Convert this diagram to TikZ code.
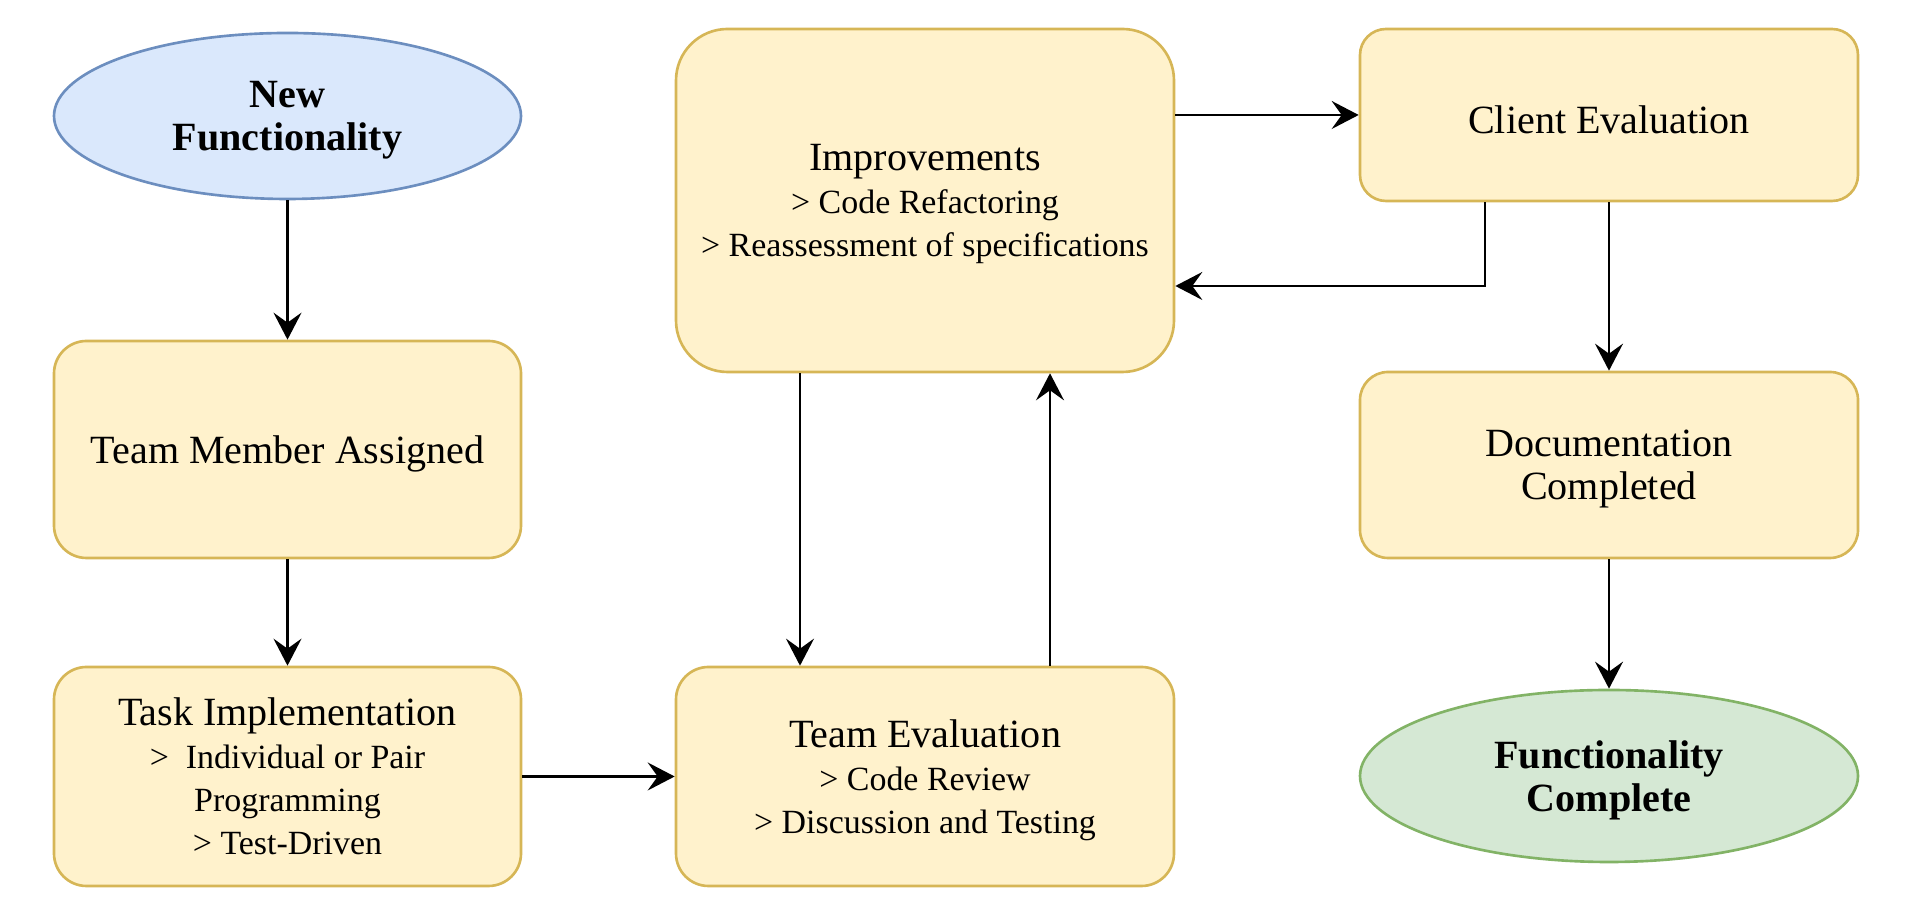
\documentclass[tikz,border=0pt]{standalone}
\usepackage{fontspec}
\setmainfont{Liberation Serif}
\usetikzlibrary{arrows.meta, shapes.geometric, positioning}

\definecolor{boxfill}{HTML}{FFF2CC}
\definecolor{boxline}{HTML}{D6B656}
\definecolor{startfill}{HTML}{DAE8FC}
\definecolor{startline}{HTML}{6C8EBF}
\definecolor{endfill}{HTML}{D5E8D4}
\definecolor{endline}{HTML}{82B366}
\newcommand{\titlesize}{\fontsize{22.8}{24.5}\selectfont}
\newcommand{\itemsize}{\fontsize{19.3}{24.5}\selectfont}

\begin{document}
\begin{tikzpicture}[
  stepbox/.style={draw=boxline, fill=boxfill, line width=1.5pt, rounded corners=#1,
    align=center, font=\titlesize, inner sep=0pt, text depth=-0.08cm},
  stepbox/.default=0.65cm,
  terminal/.style={ellipse, line width=1.5pt, align=center,
    font=\titlesize\bfseries, inner sep=0pt, text depth=-0.08cm},
  arr/.style={-{Stealth[length=0.54cm, width=0.56cm, inset=0.2cm]}, line width=1.5pt}
]
\useasboundingbox (0,0) rectangle (38.36,18.4);

% Columna izquierda
\node[terminal, draw=startline, fill=startfill, minimum width=9.34cm, minimum height=3.32cm]
  (start) at (5.75,16.08) {New\\Functionality};
\node[stepbox, minimum width=9.34cm, minimum height=4.34cm]
  (assign) at (5.75,9.41) {Team Member Assigned};
\node[stepbox, minimum width=9.34cm, minimum height=4.38cm, text depth=0.02cm]
  (impl) at (5.75,2.87) {Task Implementation\\
  {\itemsize >\ \ Individual or Pair}\\
  {\itemsize Programming}\\
  {\itemsize > Test-Driven}};

% Columna central
\node[stepbox=1.03cm, minimum width=9.96cm, minimum height=6.86cm]
  (improve) at (18.5,14.39) {Improvements\\
  {\itemsize > Code Refactoring}\\
  {\itemsize > Reassessment of specifications}};
\node[stepbox, minimum width=9.96cm, minimum height=4.38cm]
  (teameval) at (18.5,2.87) {Team Evaluation\\
  {\itemsize > Code Review}\\
  {\itemsize > Discussion and Testing}};

% Columna derecha
\node[stepbox=0.52cm, minimum width=9.96cm, minimum height=3.44cm, text height=0.74cm, text depth=0cm]
  (client) at (32.18,16.10) {Client Evaluation};
\node[stepbox=0.56cm, minimum width=9.96cm, minimum height=3.72cm]
  (doc) at (32.18,9.10) {Documentation\\Completed};
\node[terminal, draw=endline, fill=endfill, minimum width=9.96cm, minimum height=3.44cm]
  (done) at (32.18,2.88) {Functionality\\Complete};

% Flechas
\draw[arr] (start) -- (assign);
\draw[arr] (assign) -- (impl);
\draw[arr] (impl) -- (teameval);
\draw[arr] ([xshift=-2.5cm]improve.south) -- ([xshift=-2.5cm]teameval.north);
\draw[arr] ([xshift=2.5cm]teameval.north) -- ([xshift=2.5cm]improve.south);
\draw[arr] (improve.east |- client.west) -- (client.west);
\draw[arr] ([xshift=-2.48cm]client.south) |- ([yshift=-1.71cm]improve.east);
\draw[arr] (client) -- (doc);
\draw[arr] (doc) -- (done);
\end{tikzpicture}
\end{document}
